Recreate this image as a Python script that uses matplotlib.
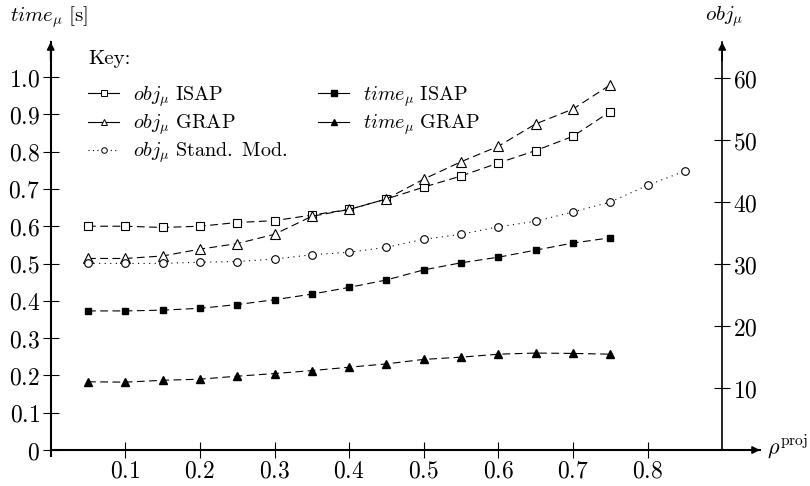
import matplotlib
matplotlib.use("Agg")
import matplotlib.pyplot as plt
from matplotlib.lines import Line2D
from matplotlib.ticker import FixedLocator, FuncFormatter

plt.rcParams['mathtext.fontset'] = 'cm'
plt.rcParams['font.family'] = 'DejaVu Serif'

# values
rho = [0.05, 0.1, 0.15, 0.2, 0.25, 0.3, 0.35, 0.4, 0.45, 0.5, 0.55, 0.6, 0.65, 0.7, 0.75]
rho_std = [0.05, 0.1, 0.15, 0.2, 0.25, 0.3, 0.35, 0.4, 0.45, 0.5, 0.55, 0.6, 0.65, 0.7, 0.75, 0.8, 0.85]
time_isap = [0.373, 0.373, 0.375, 0.380, 0.390, 0.403, 0.418, 0.436, 0.456, 0.483, 0.502, 0.517, 0.536, 0.555, 0.569]
time_grap = [0.183, 0.182, 0.187, 0.190, 0.198, 0.205, 0.213, 0.222, 0.231, 0.243, 0.249, 0.257, 0.260, 0.259, 0.257]
obj_isap = [36.1, 36.1, 35.9, 36.1, 36.7, 37.0, 37.9, 38.8, 40.5, 42.4, 44.2, 46.3, 48.3, 50.6, 54.6]
obj_grap = [30.9, 30.9, 31.3, 32.4, 33.3, 34.8, 37.7, 38.8, 40.5, 43.7, 46.5, 49.0, 52.6, 55.0, 58.9]
obj_std = [30.1, 30.1, 30.1, 30.3, 30.4, 30.8, 31.5, 31.9, 32.7, 34.0, 34.8, 36.0, 36.9, 38.4, 40.0, 42.7, 45.0]

x_ticks = [0.1, 0.2, 0.3, 0.4, 0.5, 0.6, 0.7, 0.8]
left_ticks = [0, 0.1, 0.2, 0.3, 0.4, 0.5, 0.6, 0.7, 0.8, 0.9, 1.0]
right_ticks = [10, 20, 30, 40, 50, 60]

W, H = 810, 486
fig = plt.figure(figsize=(W / 100, H / 100), dpi=100)
# axes box in pixels: x 50.7..760, y (from top) 42..456
ax = fig.add_axes([50.7 / W, 30 / H, (760 - 50.7) / W, 414 / H])
xmax = 0.9507
ymin, ymax = -0.016, 1.094
ax.set_xlim(0, xmax)
ax.set_ylim(ymin, ymax)
ax.patch.set_alpha(0)

ax2 = ax.twinx()
k = 60.16
ax2.set_ylim(ymin * k, ymax * k)

dash = (0, (7, 4))
dot = (0, (1, 4))
lw = 0.8

ax.plot(rho, time_isap, ls=dash, lw=lw, color='k', marker='s', ms=5, mfc='k', mec='k', clip_on=False)
ax.plot(rho, time_grap, ls=dash, lw=lw, color='k', marker='^', ms=6, mfc='k', mec='k', clip_on=False)
ax2.plot(rho, obj_isap, ls=dash, lw=lw, color='k', marker='s', ms=5.5, mfc='white', mec='k', mew=0.8, clip_on=False)
ax2.plot(rho, obj_grap, ls=dash, lw=lw, color='k', marker='^', ms=6.5, mfc='white', mec='k', mew=0.8, clip_on=False)
ax2.plot(rho_std, obj_std, ls=dot, lw=lw, color='k', marker='o', ms=5.5, mfc='white', mec='k', mew=0.8, clip_on=False)

fs = 14
tfs = 17
# left / bottom axes
for s in ['top', 'right']:
  ax.spines[s].set_visible(False)
ax.spines['bottom'].set_position(('data', 0))
ax.spines['left'].set_linewidth(1.5)
ax.spines['bottom'].set_linewidth(1.5)
ax.xaxis.set_major_locator(FixedLocator(x_ticks))
ax.yaxis.set_major_locator(FixedLocator(left_ticks))
ax.xaxis.set_major_formatter(FuncFormatter(lambda v, p: f'${v:.1f}$'))
ax.yaxis.set_major_formatter(FuncFormatter(lambda v, p: '$0$' if v == 0 else f'${v:.1f}$'))
ax.tick_params(axis='both', direction='inout', length=11, width=0.8, labelsize=tfs, colors='k')
ax.tick_params(axis='x', pad=1)
ax.tick_params(axis='y', pad=2)

# right axis
for s in ['top', 'left', 'bottom']:
  ax2.spines[s].set_visible(False)
ax2.spines['right'].set_position(('data', 0.9))
ax2.spines['right'].set_bounds(0, ymax * k)
ax2.spines['right'].set_linewidth(1.2)
ax2.yaxis.set_major_locator(FixedLocator(right_ticks))
ax2.yaxis.set_major_formatter(FuncFormatter(lambda v, p: f'${v:.0f}$'))
ax2.tick_params(axis='y', direction='inout', length=11, width=0.8, labelsize=tfs, pad=2)

# arrow heads
arr = dict(arrowstyle='-|>', color='k', lw=1.2, mutation_scale=11, shrinkA=0, shrinkB=0)
ax.annotate('', xy=(0, ymax), xytext=(0, ymax - 0.05), arrowprops=arr, annotation_clip=False)
ax.annotate('', xy=(xmax, 0), xytext=(xmax - 0.03, 0), arrowprops=arr, annotation_clip=False)
ax2.annotate('', xy=(0.9, ymax * k), xytext=(0.9, ymax * k - 3), arrowprops=arr, annotation_clip=False)

# axis titles
fig.text(10 / W, 1 - 17 / H, r'$time_\mu\ [\mathrm{s}]$', fontsize=fs + 1, ha='left', va='center')
fig.text(724 / W, 1 - 17 / H, r'$obj_\mu$', fontsize=fs + 1, ha='center', va='center')
fig.text(767 / W, 1 - 447 / H, r'$\rho^{\mathrm{proj}}$', fontsize=fs + 2, ha='left', va='center')

# key
fig.text(88 / W, 1 - 59 / H, 'Key:', family=['cmr10', 'DejaVu Serif'], fontsize=fs + 1, ha='left', va='center')
handles = [
  Line2D([], [], ls='-', lw=lw, color='k', marker='s', ms=4, mfc='white', mec='k', mew=0.7),
  Line2D([], [], ls='-', lw=lw, color='k', marker='^', ms=4.5, mfc='white', mec='k', mew=0.7),
  Line2D([], [], ls=(0, (1, 3)), lw=lw, color='k', marker='o', ms=4, mfc='white', mec='k', mew=0.7),
  Line2D([], [], ls='-', lw=lw, color='k', marker='s', ms=4, mfc='k', mec='k'),
  Line2D([], [], ls='-', lw=lw, color='k', marker='^', ms=4.5, mfc='k', mec='k'),
]
labels = [
  r'$obj_\mu\ \mathrm{ISAP}$',
  r'$obj_\mu\ \mathrm{GRAP}$',
  r'$obj_\mu\ \mathrm{Stand.\ Mod.}$',
  r'$time_\mu\ \mathrm{ISAP}$',
  r'$time_\mu\ \mathrm{GRAP}$',
]
leg = ax2.legend(handles, labels, ncol=2, loc='upper left',
                 bbox_to_anchor=(72 / W, 1 - 68 / H), bbox_transform=fig.transFigure,
                 frameon=False, fontsize=fs + 0.5,
                 handlelength=1.55, handletextpad=0.7,
                 columnspacing=1.5, labelspacing=0.18, borderpad=0.3)

fig.savefig('out.png', dpi=100)
